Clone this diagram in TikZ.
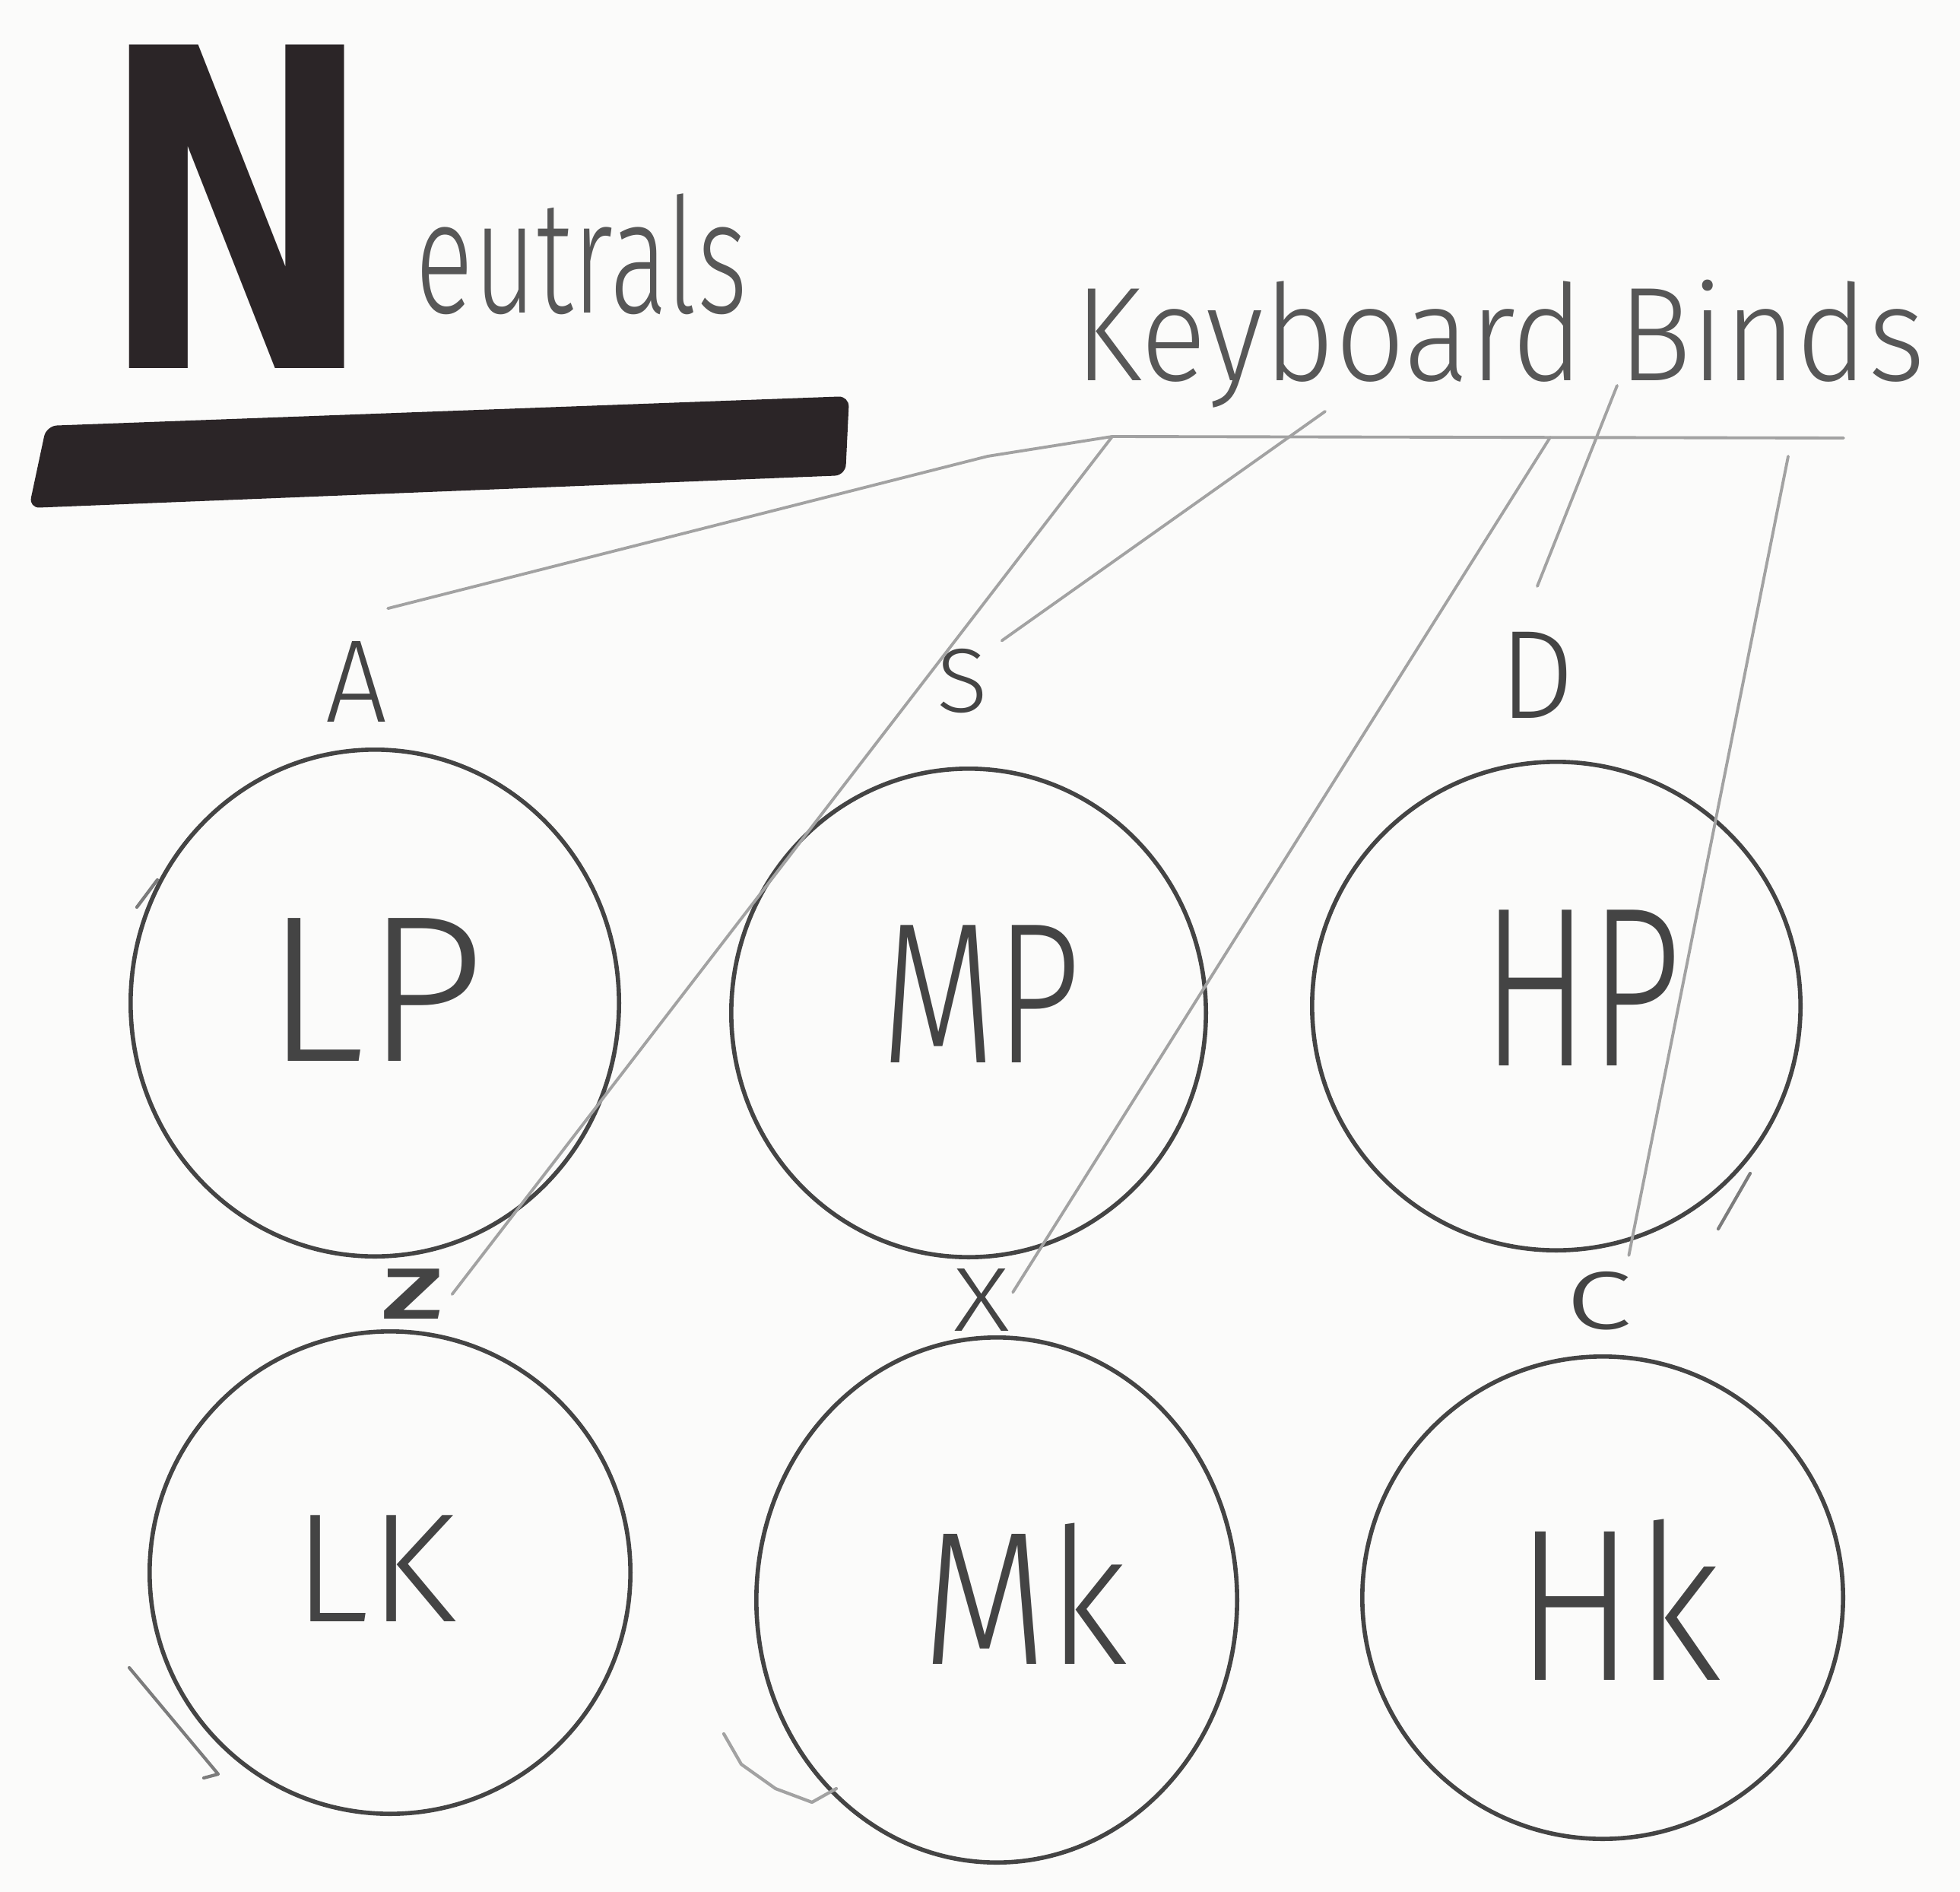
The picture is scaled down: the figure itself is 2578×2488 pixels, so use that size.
\documentclass[tikz,border=0pt]{standalone}
\usepackage{fontspec}
% thin pen lettering: the lightest available sans weight
\IfFontExistsTF{Fira Sans Light}
  {\newfontfamily\hand{Fira Sans Light}}
  {\IfFontExistsTF{Open Sans Light}
    {\newfontfamily\hand{Open Sans Light}}
    {\IfFontExistsTF{Lato Light}
      {\newfontfamily\hand{Lato Light}}
      {\newfontfamily\hand{Fira Sans}}}}
\newfontfamily\marker{DejaVu Sans}
\usetikzlibrary{shapes.geometric}

\definecolor{paper}{HTML}{FBFBFA}
\definecolor{ink}{HTML}{2B2527}
\definecolor{pen}{HTML}{444444}
\definecolor{script}{HTML}{575757}
\definecolor{graphite}{HTML}{A2A2A2}

% hand lettering: font size, printed width, text
\newcommand\handtext[3]{{\hand\fontsize{#1}{#1}\selectfont\resizebox{#2}{\height}{#3}}}

\begin{document}
\begin{tikzpicture}[x=0.01cm, y=-0.01cm,
  keycircle/.style={ellipse, draw=pen, line width=1.6pt, inner sep=0},
  link/.style={draw=graphite, line width=1.1pt, line cap=round, line join=round},
  stray/.style={draw=pen!70, line width=1.2pt, line cap=round, line join=round},
  glyph/.style={inner sep=0, text=pen},
  keyname/.style={inner sep=0, text=script}]

\useasboundingbox[fill=paper] (0,0) rectangle (2578,2488);

% heading
\node[inner sep=0, text=ink] (N) at (312,272)
  {\marker\bfseries\fontsize{170}{170}\selectfont\resizebox{103pt}{121pt}{N}};
\node[keyname, anchor=base] (title) at (765,411) {\handtext{60pt}{124pt}{eutrals}};
\fill[ink, rounded corners=4pt] (61,560) -- (1117,521) -- (1112,625) -- (38,668) -- cycle;

\node[keyname, anchor=base, text=script] (binds) at (1973,500)
  {\handtext{50pt}{318pt}{Keyboard Binds}};

% button circles
\node[keycircle, minimum width=6.42cm, minimum height=6.66cm] (LP) at (493,1319) {};
\node[keycircle, minimum width=6.24cm, minimum height=6.42cm] (MP) at (1274,1332) {};
\node[keycircle, minimum width=6.42cm, minimum height=6.42cm] (HP) at (2047,1323) {};
\node[keycircle, minimum width=6.32cm, minimum height=6.34cm] (LK) at (513,2068) {};
\node[keycircle, minimum width=6.32cm, minimum height=6.90cm] (MK) at (1311,2104) {};
\node[keycircle, minimum width=6.32cm, minimum height=6.34cm] (HK) at (2108,2101) {};

% loose pen strokes where the circles were closed
\draw[stray] (170,2193) -- (287,2333) -- (268,2338);
\draw[stray, draw=graphite] (952,2280) -- (975,2320) -- (1020,2352) -- (1068,2370) -- (1100,2352);
\draw[stray] (2260,1616) -- (2302,1543);
\draw[stray] (180,1193) -- (207,1157);

% button names
\node[glyph] (LPt) at (493,1302) {\handtext{78pt}{82pt}{LP}};
\node[glyph] (MPt) at (1290,1307) {\handtext{75pt}{75pt}{MP}};
\node[glyph] (HPt) at (2080,1299) {\handtext{85pt}{75pt}{HP}};
\node[glyph] (LKt) at (493,2063) {\handtext{58pt}{61pt}{LK}};
\node[glyph] (MKt) at (1348,2096) {\handtext{71pt}{77pt}{Mk}};
\node[glyph] (HKt) at (2129,2104) {\handtext{81pt}{77pt}{Hk}};

% key letters
\node[glyph] (A) at (469,896) {\handtext{44pt}{23pt}{A}};
\node[glyph] (S) at (1266,896) {\handtext{34pt}{19pt}{S}};
\node[glyph] (D) at (2022,888) {\handtext{47pt}{28pt}{D}};
\node[glyph] (Z) at (543,1702) {\handtext{27pt}{23pt}{\bfseries Z}};
\node[glyph] (X) at (1291,1710) {\handtext{34pt}{21pt}{X}};
\node[glyph] (C) at (2103,1711) {\handtext{40pt}{26pt}{c}};

% bind rail and its tap points
\coordinate (railA) at (1299,600);
\coordinate (railW) at (1463,574);
\coordinate (railE) at (2425,576);
\coordinate (sTop) at (1743,541);
\coordinate (xTop) at (2039,575);
\coordinate (dTop) at (2127,507);
\coordinate (cTop) at (2352,600);

% connectors from the rail to the keys
\draw[link] (railE) -- (railW) -- (railA) -- ([yshift=12pt]A.north east);
\draw[link] (railW) -- ([xshift=3pt]Z.east);
\draw[link] (sTop) -- ([xshift=5pt, yshift=3pt]S.north east);
\draw[link] (xTop) -- ([xshift=1pt, yshift=3pt]X.east);
\draw[link] (dTop) -- ([yshift=17pt]D.north);
\draw[link] (cTop) -- ([xshift=-2pt, yshift=6pt]C.north east);

\end{tikzpicture}
\end{document}
